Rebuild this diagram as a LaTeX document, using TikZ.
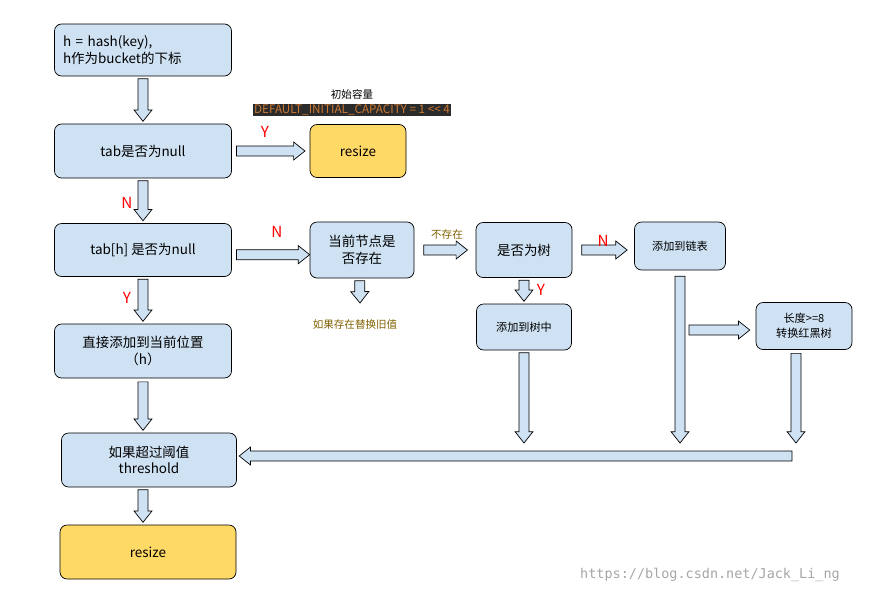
\documentclass[tikz,border=0pt]{standalone}
\usepackage{fontspec}
\setmainfont{Noto Sans CJK SC}
\setmonofont{DejaVu Sans Mono}
\usetikzlibrary{calc}
\definecolor{boxblue}{RGB}{207,226,243}
\definecolor{boxyellow}{RGB}{255,217,102}
\definecolor{olive}{RGB}{128,96,0}
\definecolor{codebg}{RGB}{43,43,43}
\definecolor{codefg}{RGB}{204,120,50}
\tikzset{
  box/.style={draw, rounded corners=6pt, fill=boxblue, semithick, align=center, font=\fontsize{11.5}{14}\selectfont},
  smallbox/.style={box, font=\fontsize{9.5}{12.5}\selectfont},
  ybox/.style={box, fill=boxyellow},
  yn/.style={red, font=\fontsize{13}{14}\selectfont},
  note/.style={olive, font=\fontsize{9}{10}\selectfont},
  barrow/.style={draw, fill=boxblue, semithick}
}
\newcommand{\barr}[2]{%
  \coordinate (ba) at #1; \coordinate (bb) at #2;
  \coordinate (bh) at ($(bb)!0.34cm!(ba)$);
  \draw[barrow] ($(ba)!0.15cm!90:(bb)$) -- ($(bh)!0.15cm!-90:(ba)$) -- ($(bh)!0.27cm!-90:(ba)$) -- (bb)
    -- ($(bh)!0.27cm!90:(ba)$) -- ($(bh)!0.15cm!90:(ba)$) -- ($(ba)!0.15cm!-90:(bb)$) -- cycle;}
\begin{document}
\begin{tikzpicture}[x=0.03cm,y=-0.03cm]
\useasboundingbox (0,0) rectangle (880,594);
\node[box, minimum width=177*0.03cm, minimum height=52*0.03cm, align=left, text width=160*0.03cm] (h) at (143,50) {h = hash(key),\\h作为bucket的下标};
\node[box, minimum width=177*0.03cm, minimum height=54*0.03cm] (tab) at (143,151) {tab是否为null};
\node[ybox, minimum width=96*0.03cm, minimum height=53*0.03cm] (resize1) at (358,151) {resize};
\node[font=\fontsize{9}{10}\selectfont] (cap) at (352,94) {初始容量};
\node[fill=codebg, text=codefg, inner sep=1pt, font=\fontsize{10}{11}\selectfont] (capv) at (352,110) {DEFAULT\_INITIAL\_CAPACITY = 1 {<}{<} 4};
\node[box, minimum width=177*0.03cm, minimum height=53*0.03cm] (tabh) at (143,250) {tab[h] 是否为null};
\node[box, minimum width=104*0.03cm, minimum height=56*0.03cm] (cur) at (362,250) {当前节点是\\否存在};
\node[box, minimum width=96*0.03cm, minimum height=55*0.03cm] (tree) at (524,250) {是否为树};
\node[smallbox, minimum width=91*0.03cm, minimum height=48*0.03cm] (list) at (680,246) {添加到链表};
\node[smallbox, minimum width=95*0.03cm, minimum height=46*0.03cm] (addtree) at (524,327) {添加到树中};
\node[smallbox, minimum width=96*0.03cm, minimum height=47*0.03cm] (rbt) at (804,326) {长度>=8\\转换红黑树};
\node[box, minimum width=177*0.03cm, minimum height=54*0.03cm] (direct) at (143,351) {直接添加到当前位置\\（h）};
\node[box, minimum width=175*0.03cm, minimum height=54*0.03cm] (thr) at (149,460) {如果超过阈值\\threshold};
\node[ybox, minimum width=176*0.03cm, minimum height=54*0.03cm] (resize2) at (148,552) {resize};
\node[note] (replace) at (355,324) {如果存在替换旧值};
\node[text=gray!70, font=\ttfamily\fontsize{11.5}{13}\selectfont] (url) at (710,575) {https://blog.csdn.net/Jack\_Li\_ng};
\coordinate (curend) at (360,303);
\coordinate (listend) at (680,443);
\coordinate (listmid) at (689,330);
\coordinate (treeend) at (524,443);
\coordinate (rbtend) at (796,443);
\coordinate (mergetail) at (792,456);
% block arrows
\barr{([yshift=-2pt]h.south)}{([yshift=2pt]tab.north)}
\barr{([xshift=4pt]tab.east)}{([xshift=-4pt]resize1.west)}
\barr{([yshift=-2pt]tab.south)}{([yshift=2pt]tabh.north)}
\barr{([yshift=-2pt]tabh.south)}{([yshift=2pt]direct.north)}
\barr{([xshift=4pt,yshift=-4pt]tabh.east)}{([yshift=-4pt]cur.west)}
\barr{([xshift=-2pt,yshift=-2pt]cur.south)}{(curend)}
\barr{([xshift=8pt]cur.east)}{([xshift=-7pt]tree.west)}
\barr{([xshift=8pt]tree.east)}{([xshift=-6pt]tree.east -| list.west)}
\barr{([yshift=-2pt]tree.south)}{([yshift=2pt]addtree.north)}
\barr{([yshift=-5pt]list.south)}{(listend)}
\barr{(listmid)}{([xshift=-5pt]listmid -| rbt.west)}
\barr{([yshift=-2pt]addtree.south)}{(treeend)}
\barr{([yshift=-3pt]rbt.south -| rbtend)}{(rbtend)}
\barr{(mergetail)}{([xshift=2pt]mergetail -| thr.east)}
\barr{([yshift=-3pt]direct.south)}{([yshift=2pt]direct.south |- thr.north)}
\barr{([yshift=-2pt]thr.south -| direct.south)}{([yshift=2pt]direct.south |- resize2.north)}
% labels
\node[yn] at (265,132) {Y};
\node[yn] at (127,203) {N};
\node[yn] at (127,298) {Y};
\node[yn] at (277,232) {N};
\node[note] at (447,234) {不存在};
\node[yn] at (603,241) {N};
\node[yn] at (541,290) {Y};
\end{tikzpicture}
\end{document}
